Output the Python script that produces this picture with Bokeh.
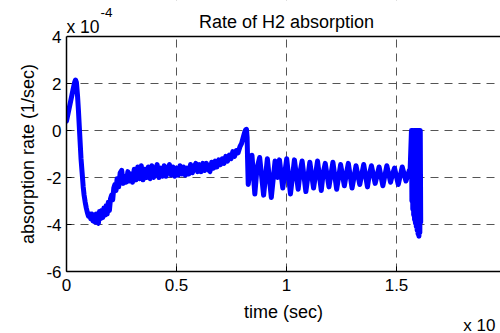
from bokeh.plotting import figure
from bokeh.models import FixedTicker, Title, Label, Span, BoxAnnotation
from bokeh.embed import file_html
from bokeh.resources import INLINE

# ---- data (time axis scaled, rate in units of 1e-4 1/sec) ----
time_vals = [
    0.000, 0.010, 0.020, 0.030, 0.037, 0.041, 0.045, 0.050, 0.054, 0.058,
    0.062, 0.066, 0.071, 0.076, 0.080, 0.085, 0.090, 0.095, 0.100, 0.105,
    0.110, 0.115, 0.120, 0.125, 0.130, 0.135, 0.140, 0.145, 0.150, 0.155,
    0.160, 0.165, 0.170, 0.175, 0.180, 0.185, 0.190, 0.195, 0.200, 0.205,
    0.210, 0.215, 0.220, 0.225, 0.230, 0.237, 0.244, 0.251, 0.258, 0.265,
    0.272, 0.279, 0.286, 0.293, 0.300, 0.308, 0.316, 0.324, 0.332, 0.340,
    0.348, 0.356, 0.364, 0.372, 0.380, 0.388, 0.396, 0.404, 0.412, 0.420,
    0.428, 0.436, 0.444, 0.452, 0.460, 0.468, 0.476, 0.484, 0.492, 0.500,
    0.508, 0.516, 0.524, 0.532, 0.540, 0.548, 0.556, 0.564, 0.572, 0.580,
    0.588, 0.596, 0.604, 0.612, 0.620, 0.628, 0.636, 0.644, 0.652, 0.660,
    0.668, 0.676, 0.684, 0.692, 0.700, 0.708, 0.716, 0.724, 0.732, 0.740,
    0.748, 0.756, 0.764, 0.772, 0.780, 0.788, 0.796, 0.803, 0.809, 0.814,
    0.818, 0.821, 0.823,
    0.826, 0.843, 0.856, 0.866, 0.878, 0.896, 0.913, 0.931, 0.948, 0.959,
    0.968, 0.983, 1.001, 1.018, 1.036, 1.053, 1.062, 1.071, 1.088, 1.106,
    1.123, 1.141, 1.158, 1.167, 1.176, 1.193, 1.211, 1.228, 1.246, 1.263,
    1.272, 1.281, 1.298, 1.316, 1.333, 1.351, 1.368, 1.377, 1.386, 1.403,
    1.421, 1.438, 1.456, 1.473, 1.482, 1.491, 1.508, 1.526, 1.543, 1.558,
    1.562, 1.568, 1.570, 1.572, 1.574, 1.576, 1.578, 1.580, 1.582, 1.584,
    1.586, 1.588, 1.590, 1.592, 1.594, 1.596, 1.598, 1.600, 1.602, 1.604,
    1.606, 1.608, 1.610,
]
rate_vals = [
    0.40, 0.85, 1.30, 1.75, 2.05, 2.15, 2.05, 1.50, 0.90, 0.20,
    -0.50, -1.20, -1.80, -2.40, -2.75, -3.05, -3.30, -3.50, -3.65, -3.55,
    -3.75, -3.55, -3.85, -3.60, -3.90, -3.55, -3.80, -3.95, -3.45, -3.75,
    -3.40, -3.70, -3.30, -3.60, -3.20, -3.55, -3.05, -3.40, -2.90, -2.75,
    -2.95, -2.45, -2.30, -2.55, -2.05, -2.40, -1.80, -1.70, -2.25, -1.95,
    -2.20, -1.75, -2.15, -1.85, -2.20, -1.65, -2.10, -1.55, -2.05, -1.50,
    -2.10, -1.65, -2.00, -1.55, -2.05, -1.50, -2.00, -1.70, -1.45, -2.00,
    -1.60, -1.95, -1.50, -1.95, -1.65, -1.45, -1.90, -1.55, -1.95, -1.60,
    -1.90, -1.50, -1.85, -1.55, -1.90, -1.60, -1.85, -1.45, -1.80, -1.55,
    -1.40, -1.75, -1.45, -1.75, -1.40, -1.70, -1.40, -1.65, -1.75, -1.35,
    -1.60, -1.30, -1.55, -1.25, -1.45, -1.20, -1.40, -1.10, -1.30, -1.05,
    -1.20, -0.90, -1.10, -0.85, -0.95, -0.70, -0.55, -0.30, -0.10, 0.02,
    0.05, -0.30, -1.20,
    -2.30, -1.05, -2.70, -1.60, -1.15, -2.75, -1.20, -2.85, -1.30, -2.00,
    -1.25, -2.45, -1.20, -2.70, -1.25, -2.50, -1.75, -1.30, -2.60, -1.35,
    -2.45, -1.30, -2.55, -1.80, -1.40, -2.40, -1.35, -2.50, -1.45, -2.35,
    -1.85, -1.40, -2.45, -1.50, -2.30, -1.45, -2.40, -1.85, -1.50, -2.25,
    -1.55, -2.35, -1.50, -2.20, -1.85, -1.60, -2.30, -1.55, -2.15, -1.70,
    -1.65, 0.00, -3.00, 0.00, -3.35, 0.00, -3.60, 0.00, -3.80, 0.00,
    -3.95, 0.00, -4.10, 0.00, -4.25, 0.00, -4.40, 0.00, -4.50, 0.00,
    -4.35, 0.00, -3.90,
]

x_ticks = [0, 0.5, 1, 1.5, 2]
x_tick_labels = ["0", "0.5", "1", "1.5", "2"]
y_ticks = [-6, -4, -2, 0, 2, 4]
y_tick_labels = ["-6", "-4", "-2", "0", "2", "4"]

title_text = "Rate of H2 absorption"
x_label = "time (sec)"
y_label = "absorption rate (1/sec)"
y_multiplier = "x 10"
y_exponent = "-4"
x_multiplier = "x 10"

FONT = "Liberation Sans"
Y_MIN, Y_MAX = -6, 4          # axes box limits
Y_TOP = 5.532                 # canvas headroom for title row (inside frame)

p = figure(width=500, height=333, x_range=(0, 1.9727), y_range=(Y_MIN, Y_TOP),
           output_backend="svg", toolbar_location=None,
           min_border_left=66, min_border_right=0,
           min_border_top=0, min_border_bottom=62)
p.outline_line_color = None
p.title = None

p.xaxis.ticker = FixedTicker(ticks=x_ticks)
p.xaxis.major_label_overrides = dict(zip(x_ticks, x_tick_labels))
p.yaxis.ticker = FixedTicker(ticks=y_ticks)
p.yaxis.major_label_overrides = dict(zip(y_ticks, y_tick_labels))
p.yaxis.bounds = (Y_MIN, Y_MAX)

for ax in list(p.xaxis) + list(p.yaxis):
    ax.major_tick_in = 5
    ax.major_tick_out = 0
    ax.minor_tick_line_color = None
    ax.axis_line_color = "black"
    ax.axis_line_width = 1.5
    ax.major_tick_line_color = "black"
    ax.major_tick_line_width = 1
    ax.major_label_text_font = FONT
    ax.major_label_text_font_size = "17px"
    ax.major_label_text_color = "black"
    ax.axis_label_text_font = FONT
    ax.axis_label_text_font_size = "18px"
    ax.axis_label_text_font_style = "normal"
    ax.axis_label_text_color = "black"

p.xaxis.major_label_standoff = 7
p.xaxis.axis_label = x_label
p.xaxis.axis_label_standoff = 8
p.yaxis.major_label_standoff = 5

p.xgrid.ticker = FixedTicker(ticks=x_ticks)
p.ygrid.ticker = FixedTicker(ticks=y_ticks)
for g in (p.xgrid, p.ygrid):
    g.grid_line_color = "#555555"
    g.grid_line_dash = "8 6"
    g.grid_line_width = 1

p.line(time_vals, rate_vals, line_width=5, line_color="#0000FF",
       line_join="round", line_cap="round")

# headroom above the axes box: white mask + top edge of box
p.add_layout(BoxAnnotation(bottom=Y_MAX, fill_color="white", fill_alpha=1.0,
                           line_color=None))
p.add_layout(Span(location=Y_MAX, dimension="width", line_color="black",
                  line_width=1.5))

def label(x, y, text, size, align="left"):
    return Label(x=x, y=y, text=text, text_align=align,
                 text_baseline="alphabetic", text_font=FONT,
                 text_font_size=size, text_color="black")

p.add_layout(label(1.0, 4.596, title_text, "18px", "center"))
p.add_layout(label(0.0, 4.396, y_multiplier, "17.5px"))
p.add_layout(label(0.1545, 5.02, y_exponent, "13.5px"))

p.add_layout(Title(text=y_label, align="left", offset=27.5,
                   vertical_align="bottom", standoff=12,
                   text_font=FONT, text_font_size="18px",
                   text_font_style="normal", text_color="black"), "left")
p.add_layout(Title(text=x_multiplier, align="right", offset=5,
                   vertical_align="top", standoff=-18,
                   text_font=FONT, text_font_size="17px",
                   text_font_style="normal", text_color="black"), "below")

open("out.html", "w").write(file_html(p, INLINE))
